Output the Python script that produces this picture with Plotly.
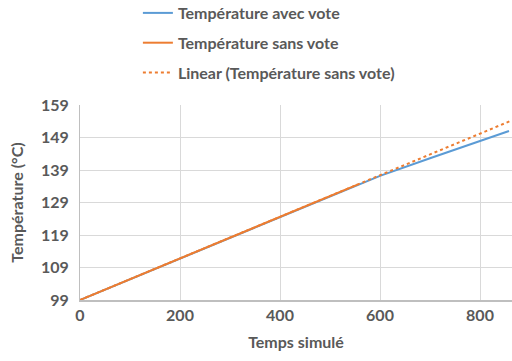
import numpy as np
import plotly.graph_objects as go

# Data
t_avec = [0, 100, 200, 300, 400, 500, 555, 600, 700, 800, 858]
temp_avec = [99, 105.4, 111.8, 118.2, 124.6, 131.0, 134.5, 137.2, 142.6, 148.0, 151.0]
t_sans = [0, 100, 200, 300, 400, 500, 555]
temp_sans = [99, 105.4, 111.8, 118.2, 124.6, 131.0, 134.5]
y_ticks = [99, 109, 119, 129, 139, 149, 159]
x_ticks = [0, 200, 400, 600, 800]

# Linear trendline of "sans vote" extended forward
coef = np.polyfit(t_sans, temp_sans, 1)
t_trend = [0, 860]
temp_trend = [coef[0] * t + coef[1] for t in t_trend]

GRAY = "#595959"
FONT = "Lato, 'Open Sans', sans-serif"
FS = 16

fig = go.Figure()
fig.add_trace(go.Scatter(x=t_avec, y=temp_avec, mode="lines", name="Température avec vote",
                         line=dict(color="#5B9BD5", width=2), legendgroup="a"))
fig.add_trace(go.Scatter(x=t_sans, y=temp_sans, mode="lines", name="Température sans vote",
                         line=dict(color="#ED7D31", width=2), legendgroup="b"))
fig.add_trace(go.Scatter(x=t_trend, y=temp_trend, mode="lines", name="Linear (Température sans vote)",
                         line=dict(color="#ED7D31", width=2, dash="dot"), legendgroup="c"))

fig.update_layout(
    width=512, height=361,
    margin=dict(l=80, r=0, t=105, b=61, autoexpand=False),
    paper_bgcolor="white", plot_bgcolor="white",
    font=dict(family=FONT, size=FS, color=GRAY),
    showlegend=True,
    legend=dict(x=0.134, y=1.559, xanchor="left", yanchor="top",
                font=dict(family=FONT, size=FS, color=GRAY, weight="bold"),
                tracegroupgap=6, bgcolor="rgba(0,0,0,0)"),
    xaxis=dict(range=[0, 864], tickvals=x_ticks, showgrid=True, gridcolor="#D9D9D9", gridwidth=1,
               showline=True, linecolor="#BFBFBF", linewidth=2, zeroline=False, automargin=False,
               tickfont=dict(family=FONT, size=FS, color=GRAY, weight="bold"),
               title=dict(text="Temps simulé", font=dict(family=FONT, size=FS, color=GRAY, weight="bold"), standoff=14),
               ticks="", ),
    yaxis=dict(range=[99, 159], tickvals=y_ticks, showgrid=True, gridcolor="#D9D9D9", gridwidth=1,
               showline=True, linecolor="#BFBFBF", linewidth=1, zeroline=False, automargin=False,
               tickfont=dict(family=FONT, size=FS, color=GRAY, weight="bold"),
               title=dict(text="Température (°C)", font=dict(family=FONT, size=FS, color=GRAY, weight="bold"), standoff=13),
               ticks="", ticklabelstandoff=7),
)

fig.write_html("out.html", config={"displayModeBar": False},
               post_script="document.body.style.margin='0';document.body.style.overflow='hidden';")
